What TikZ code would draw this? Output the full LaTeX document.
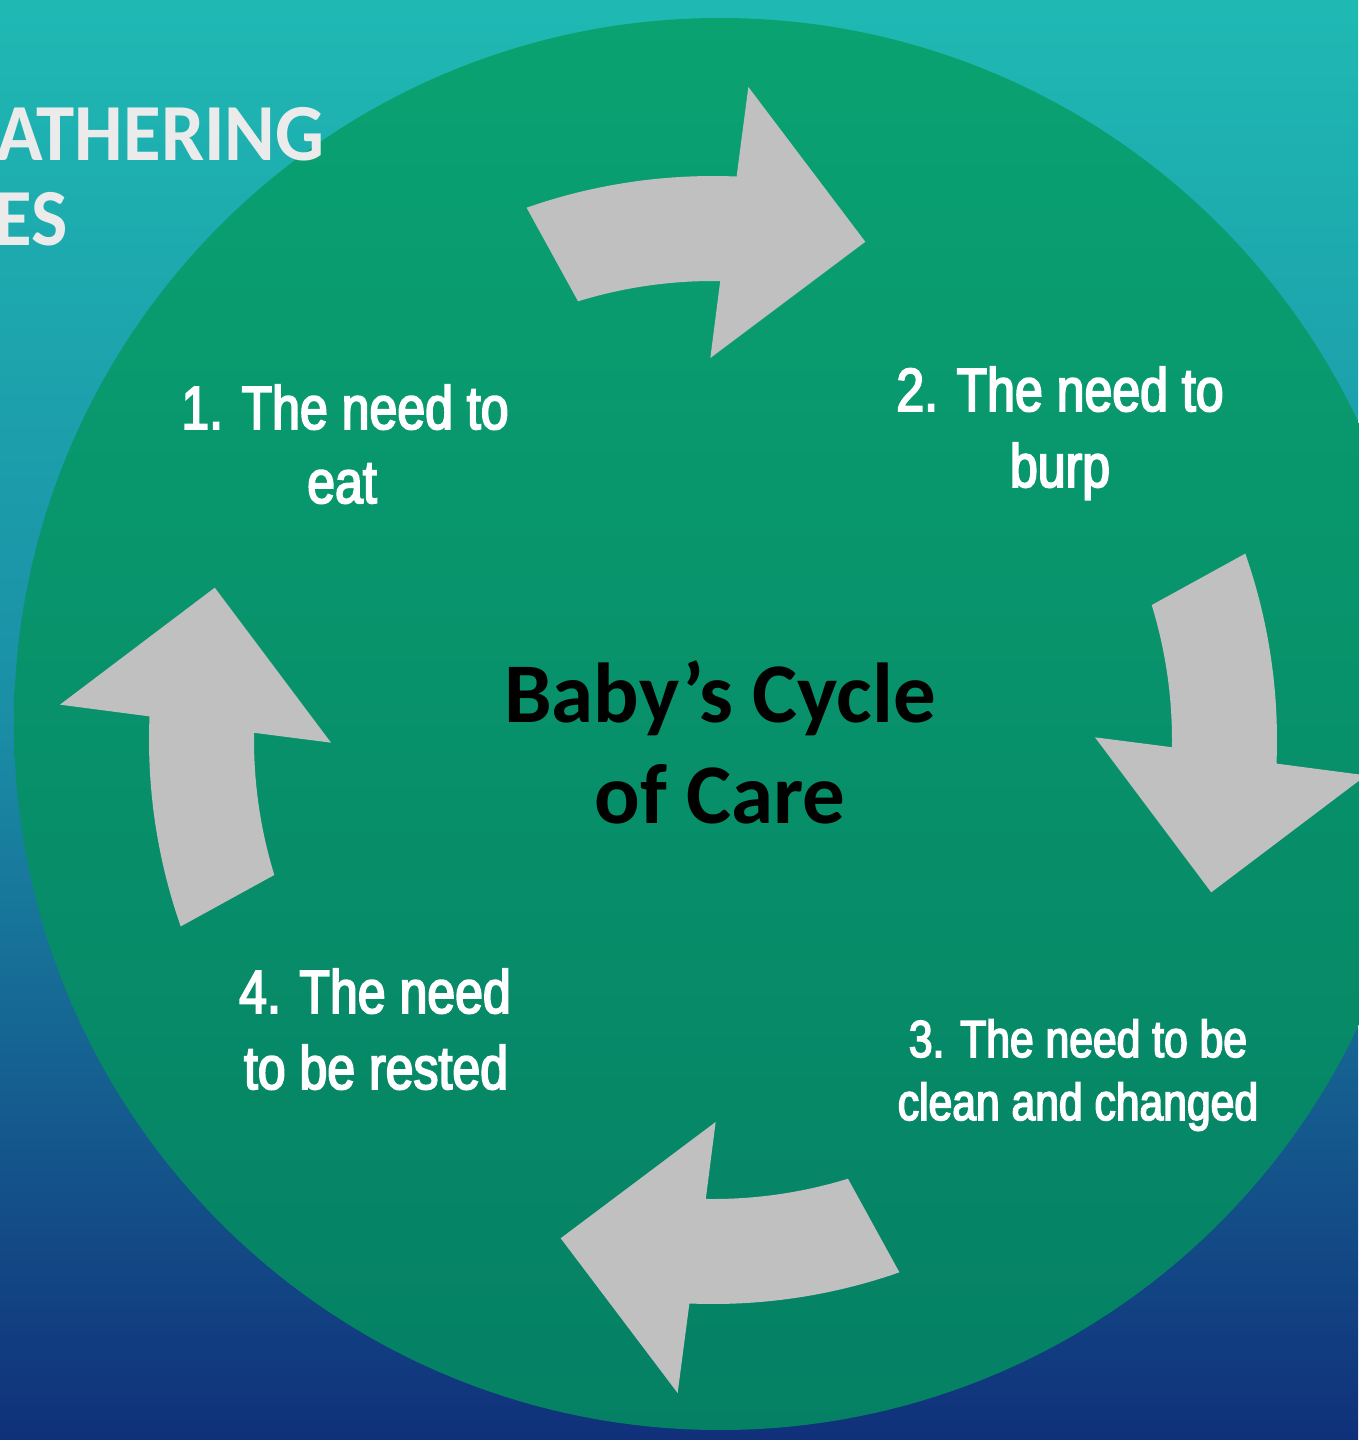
\documentclass[tikz,border=0pt]{standalone}
\usepackage{fontspec}
\setmainfont{Carlito}
\newfontfamily\labelfont[FakeStretch=0.82, FakeBold=3]{Liberation Sans}
\newfontfamily\titlefont[FakeStretch=0.95]{Carlito}
\definecolor{bgtop}{HTML}{1FB9B3}
\definecolor{bgmid}{HTML}{1A8EA6}
\definecolor{bgbot}{HTML}{10307A}
\definecolor{disctop}{HTML}{0AA271}
\definecolor{discbot}{HTML}{058064}
\definecolor{arrowgray}{HTML}{C0C0C0}
\definecolor{titlegray}{HTML}{EBEBEB}
\begin{document}
\begin{tikzpicture}[x=1pt,y=-1pt,
  stagelabel/.style={inner sep=0pt, anchor=base, text=white, font=\labelfont\fontsize{61}{63}\selectfont},
  smalllabel/.style={stagelabel, font=\labelfont\fontsize{52}{54}\selectfont},
  centretext/.style={inner sep=0pt, anchor=base, text=black, font=\bfseries\fontsize{85}{87}\selectfont},
  titletext/.style={inner sep=0pt, anchor=base west, text=titlegray, font=\titlefont\bfseries\fontsize{81}{83}\selectfont},
  cyclearrow/.style={fill=arrowgray}]
\useasboundingbox (0,0) rectangle (1358,1440);
% background
\shade[top color=bgtop, bottom color=bgbot, middle color=bgmid] (0,0) rectangle (1358,1440);
% big disc
\shade[top color=disctop, bottom color=discbot] (720,724) circle[radius=706];
% title, partly cut off at the left edge
\node[titletext] (t1) at (-4,160) {ATHERING};
\node[titletext] (t2) at (-6,245) {ES};
% four curved arrows around the cycle
\begin{scope}[shift={(713pt,-740pt)}, x=1pt, y=1pt]
\foreach \ang in {0,-90,-180,-270}{
  \fill[cyclearrow, rotate=\ang]
    (109.3:564) arc[start angle=109.3, end angle=87.6, radius=564]
    -- (86.9:654) -- (73:521) -- (90.4:382)
    -- (89.1:459) arc[start angle=89.1, end angle=107.1, radius=459] -- cycle;
}
\end{scope}
% stage labels
\node[stagelabel] (l1a) at (345,429) {1. The need to};
\node[stagelabel] (l1b) at (342,503) {eat};
\node[stagelabel] (l2a) at (1060,411) {2. The need to};
\node[stagelabel] (l2b) at (1060,487) {burp};
\node[smalllabel] (l3a) at (1078,1057) {3. The need to be};
\node[smalllabel] (l3b) at (1078,1120) {clean and changed};
\node[stagelabel] (l4a) at (375,1013) {4. The need};
\node[stagelabel] (l4b) at (376,1089) {to be rested};
% centre title
\node[centretext] (c1) at (720,722) {Baby’s Cycle};
\node[centretext] (c2) at (720,823) {of Care};
\end{tikzpicture}
\end{document}
